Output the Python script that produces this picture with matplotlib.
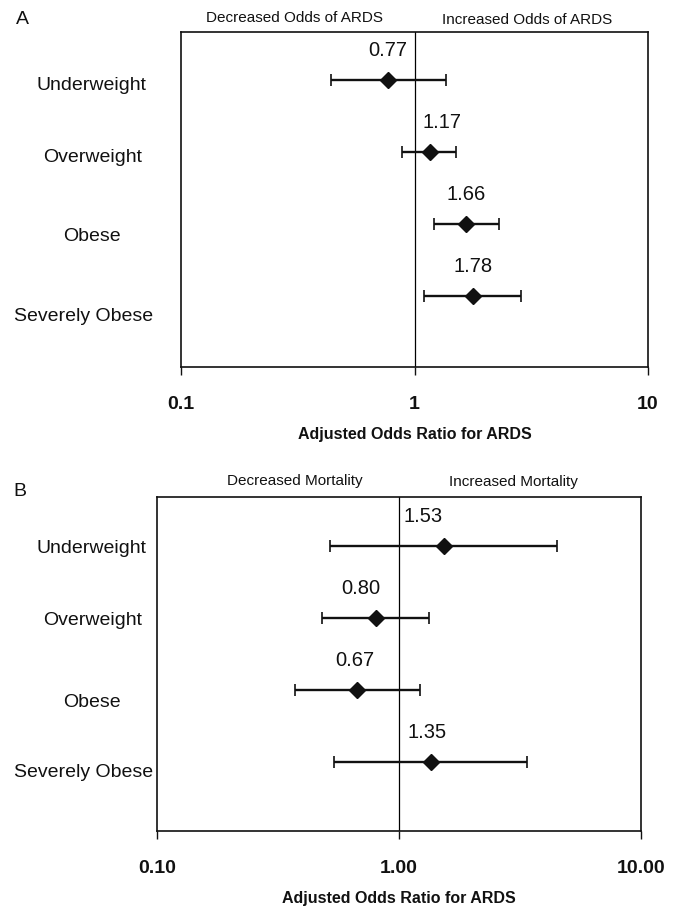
import matplotlib
matplotlib.use('Agg')
import matplotlib.pyplot as plt
from matplotlib.transforms import blended_transform_factory
import numpy as np

plt.rcParams['font.family'] = ['Liberation Sans', 'DejaVu Sans']

categories = ['Underweight', 'Overweight', 'Obese', 'Severely Obese']
or_a = [0.77, 1.17, 1.66, 1.78]
lo_a = [0.44, 0.88, 1.21, 1.10]
hi_a = [1.36, 1.51, 2.29, 2.87]
or_b = [1.53, 0.80, 0.67, 1.35]
lo_b = [0.52, 0.48, 0.37, 0.54]
hi_b = [4.49, 1.33, 1.22, 3.37]
ticks = [0.1, 1, 10]
ticklabels_a = ['0.1', '1', '10']
ticklabels_b = ['0.10', '1.00', '10.00']
xlabel = 'Adjusted Odds Ratio for ARDS'
headers_a = ['Decreased Odds of ARDS', 'Increased Odds of ARDS']
headers_b = ['Decreased Mortality', 'Increased Mortality']

W, H = 680, 907
fig = plt.figure(figsize=(W / 100, H / 100), dpi=100)

def px_axes(x0, x1, y0, y1):
    return fig.add_axes([x0 / W, 1 - y1 / H, (x1 - x0) / W, (y1 - y0) / H])

def panel(ax, ors, los, his, tlabels, ylim, label_y, label_dx, headers, hdr_pos, letter, letter_pos):
    ors = np.array(ors); los = np.array(los); his = np.array(his)
    y = np.arange(1, len(ors) + 1)
    ax.set_xscale('log')
    ax.set_xlim(0.1, 10)
    ax.set_ylim(*ylim)
    ax.axvline(1, color='black', lw=0.9, zorder=1)
    ax.errorbar(ors, y, xerr=[ors - los, his - ors], fmt='D', color='#111111',
                ms=8.5, elinewidth=1.7, capsize=4.5, capthick=1.2, zorder=3)
    for v, yy, dx in zip(ors, y, label_dx):
        ax.annotate(f'{v:.2f}', (v, yy), xytext=(dx, 30), textcoords='offset pixels',
                    ha='center', va='center', fontsize=14.5, color='#111111')
    ax.set_xticks(ticks)
    ax.set_xticklabels(tlabels, fontweight='bold', fontsize=14)
    ax.minorticks_off()
    ax.tick_params(axis='x', which='major', direction='out', length=6, width=1.0,
                   pad=15, colors='#111111')
    ax.set_yticks([])
    ax.set_xlabel(xlabel, fontweight='bold', fontsize=11.5, labelpad=10, color='#111111')
    for s in ax.spines.values():
        s.set_linewidth(1.2)
        s.set_color('#111111')
    tr = blended_transform_factory(fig.transFigure, ax.transData)
    label_x = [92, 92.5, 92, 84]
    for c, ly, lx in zip(categories, label_y, label_x):
        ax.text(lx / W, ly, c, transform=tr, ha='center', va='center', fontsize=14,
                color='#111111')
    for h, (hx, hy) in zip(headers, hdr_pos):
        fig.text(hx / W, 1 - hy / H, h, ha='center', va='center', fontsize=11,
                 color='#111111')
    fig.text(letter_pos[0] / W, 1 - letter_pos[1] / H, letter, ha='center', va='center',
             fontsize=14, color='#111111')

axA = px_axes(181, 648, 32, 367)
panel(axA, or_a, lo_a, hi_a, ticklabels_a, (4.986, 0.333),
      [1.07, 2.08, 3.17, 4.28], [0, 12, 0, 0], headers_a,
      [(294, 18), (527, 20)], 'A', (22, 20))

axB = px_axes(157, 641, 497, 831)
panel(axB, or_b, lo_b, hi_b, ticklabels_b, (4.958, 0.319),
      [1.03, 2.04, 3.17, 4.15], [-21, -15, -2, -3], headers_b,
      [(295, 481), (513, 482)], 'B', (20, 492))

fig.savefig('out.png', dpi=100)
